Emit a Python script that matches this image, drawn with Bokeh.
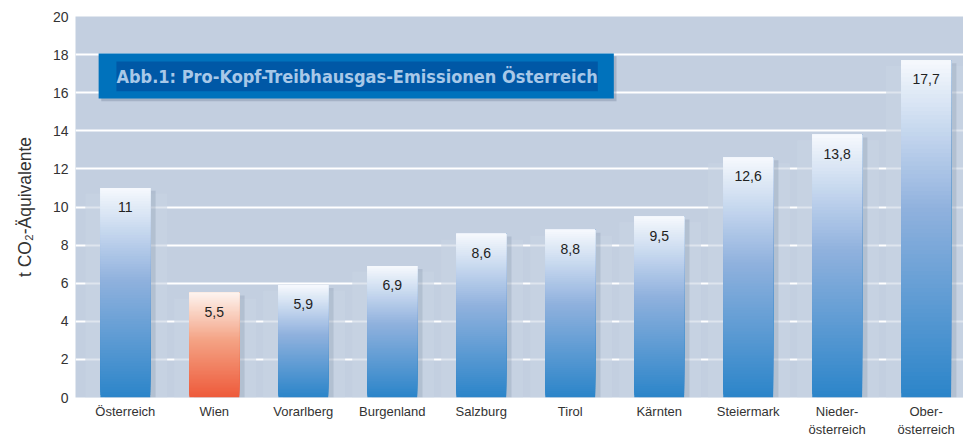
from bokeh.plotting import figure
from bokeh.models import FixedTicker
from bokeh.core.properties import value
from bokeh.embed import file_html
from bokeh.resources import INLINE

categories = ["Österreich", "Wien", "Vorarlberg", "Burgenland", "Salzburg",
              "Tirol", "Kärnten", "Steiermark", "Nieder-\nösterreich", "Ober-\nösterreich"]
values = [11, 5.5, 5.9, 6.9, 8.6, 8.8, 9.5, 12.6, 13.8, 17.7]
value_labels = ["11", "5,5", "5,9", "6,9", "8,6", "8,8", "9,5", "12,6", "13,8", "17,7"]
highlight = [False, True, False, False, False, False, False, False, False, False]
y_ticks = [0, 2, 4, 6, 8, 10, 12, 14, 16, 18, 20]
title_text = "Abb.1: Pro-Kopf-Treibhausgas-Emissionen Österreich"
y_label = "t CO₂-Äquivalente"

BLUE_STOPS = [(0.0, (43, 133, 201)), (0.55, (142, 176, 221)), (1.0, (246, 249, 253))]
RED_STOPS = [(0.0, (238, 90, 58)), (0.55, (244, 163, 133)), (1.0, (253, 244, 239))]


def interp(stops, t):
    for (t0, c0), (t1, c1) in zip(stops[:-1], stops[1:]):
        if t <= t1:
            f = (t - t0) / (t1 - t0)
            c = [round(a + (b - a) * f) for a, b in zip(c0, c1)]
            return "#%02x%02x%02x" % tuple(c)
    return "#%02x%02x%02x" % stops[-1][1]


p = figure(width=963, height=439, x_range=(-0.56, 9.42), y_range=(0, 20),
           output_backend="svg", toolbar_location=None,
           min_border_left=75, min_border_right=0, min_border_top=16, min_border_bottom=41)
p.background_fill_color = "#c3cfe0"
p.border_fill_color = "white"
p.outline_line_color = None

# grid
p.xgrid.grid_line_color = None
p.ygrid.ticker = FixedTicker(ticks=y_ticks)
p.ygrid.grid_line_color = "white"
p.ygrid.grid_line_width = 2

xs = list(range(len(values)))
bw = 0.56

# soft shadow around bars
p.quad(left=[x - bw / 2 - 0.17 for x in xs], right=[x - bw / 2 for x in xs],
       bottom=0, top=[v - 0.3 for v in values], fill_color="#c8d3e2", fill_alpha=0.6,
       line_color=None)
p.quad(left=[x + bw / 2 for x in xs], right=[x + bw / 2 + 0.19 for x in xs],
       bottom=0, top=[v - 0.3 for v in values], fill_color="#c8d3e2", fill_alpha=0.6,
       line_color=None)
p.quad(left=[x - bw / 2 + 0.05 for x in xs], right=[x + bw / 2 + 0.06 for x in xs],
       bottom=0, top=[v - 0.15 for v in values], fill_color="#6f7f98", fill_alpha=0.22,
       line_color=None)

# gradient bars (each slice drawn from its start to the bar top, stacked bottom-up)
N = 80
L, R, B, T, C = [], [], [], [], []
for x, v, hl in zip(xs, values, highlight):
    stops = RED_STOPS if hl else BLUE_STOPS
    for i in range(N):
        L.append(x - bw / 2)
        R.append(x + bw / 2)
        B.append(v * i / N)
        T.append(v)
        C.append(interp(stops, (i + 0.5) / N))
p.quad(left=L, right=R, bottom=B, top=T, fill_color=C, line_color=None)

# value labels
p.text(x=xs, y=values, text=value_labels, y_offset=19, text_align="center",
       text_baseline="middle", text_font=value("Liberation Sans"),
       text_font_size="14px", text_color="#222222")

# title box
p.quad(left=[-0.27], right=[5.52], bottom=[15.55], top=[17.91],
       fill_color="#6d7c95", fill_alpha=0.35, line_color=None)
p.quad(left=[-0.30], right=[5.49], bottom=[15.7], top=[18.06],
       fill_color="#0072bc", line_color=None)
p.quad(left=[-0.10], right=[5.31], bottom=[16.07], top=[17.64],
       fill_color="#0058a6", line_color=None)
p.text(x=[2.605], y=[16.86], text=[title_text], text_align="center",
       text_baseline="middle", text_font=value("DejaVu Sans Condensed"),
       text_font_style="bold", text_font_size="18px", text_color="#a8c8e8")

# x axis with category labels
p.xaxis.ticker = FixedTicker(ticks=xs)
p.xaxis.major_label_overrides = {x: c for x, c in zip(xs, categories)}
p.xaxis.axis_line_color = None
p.xaxis.major_tick_line_color = None
p.xaxis.minor_tick_line_color = None
p.xaxis.major_tick_out = 0
p.xaxis.major_tick_in = 0
p.xaxis.minor_tick_out = 0
p.xaxis.major_label_text_font = "Liberation Sans"
p.xaxis.major_label_text_font_size = "13px"
p.xaxis.major_label_text_color = "#333333"
p.xaxis.major_label_text_line_height = 1.2
p.xaxis.major_label_standoff = 6

p.yaxis.ticker = FixedTicker(ticks=y_ticks)
p.yaxis.axis_line_color = None
p.yaxis.major_tick_line_color = None
p.yaxis.minor_tick_line_color = None
p.yaxis.major_tick_out = 0
p.yaxis.major_tick_in = 0
p.yaxis.minor_tick_out = 0
p.yaxis.major_label_text_font = "Liberation Sans"
p.yaxis.major_label_text_font_size = "14px"
p.yaxis.major_label_text_color = "#333333"
p.yaxis.major_label_standoff = 7
p.yaxis.axis_label = y_label
p.yaxis.axis_label_text_font = "Liberation Sans"
p.yaxis.axis_label_text_font_size = "17.5px"
p.yaxis.axis_label_text_font_style = "normal"
p.yaxis.axis_label_text_color = "#333333"
p.yaxis.axis_label_standoff = 15

open("out.html", "w").write(file_html(p, INLINE))
